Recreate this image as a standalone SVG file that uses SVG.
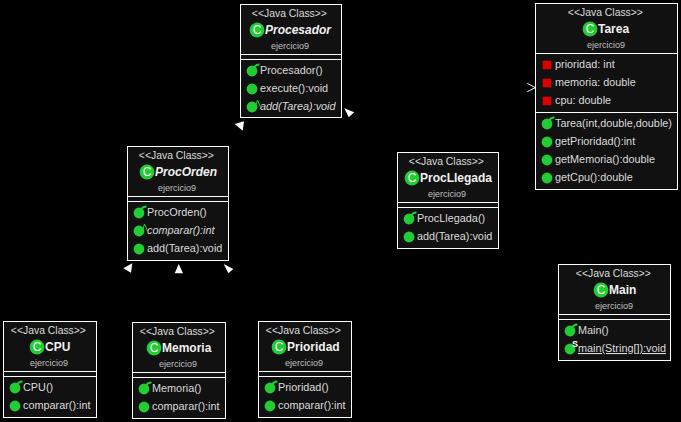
<svg xmlns="http://www.w3.org/2000/svg" width="681" height="422" viewBox="0 0 681 422">
<style>
text{font-family:"Liberation Sans",Arial,sans-serif;fill:#dcdcdc;font-size:10.85px}
.st{text-anchor:middle;font-size:10.4px}
.nmt{font-weight:bold;font-size:12px;fill:#f0f0f0}
.it{font-style:italic}
.pk{text-anchor:middle;font-size:9px;fill:#c0c0c0}
.b{fill:#111;stroke:#fff;stroke-width:1}
.l{stroke:#fff;stroke-width:1}
.g{fill:#22cc33}
.r{fill:#dd0000}
.ar{fill:#fff;stroke:none}
.cn{fill:none;stroke:#000;stroke-width:1}
</style>
<defs>
<g id="cls"><circle r="7.4" class="g"/><text x="0" y="4.2" text-anchor="middle" style="font-size:12px;fill:#fff">C</text></g>
<circle id="m" r="5.4" class="g"/>
<g id="ctor"><circle r="5.4" class="g"/><path d="M2-3Q3.5-6.5 7.5-6.5" fill="none" stroke="#22cc33" stroke-width="2"/></g>
<g id="abs"><circle r="5.4" class="g"/><path d="M4-2L5.5-7L8.5 0" fill="none" stroke="#22cc33" stroke-width="1"/></g>
<rect id="f" x="-4.3" y="-4.3" width="8.6" height="8.6" class="r"/>
</defs>
<rect id="background" x="0" y="0" width="681" height="422" fill="#000"/>
<g id="connectors">
<path class="cn" d="M179 146L239 126M179 322L179 269M128 268L50 321M228 268L305 321M448 152L348 112M342 60L532 88"/>
<path class="ar" d="M244 121.3L234.7 124L242.7 130.7Z"/>
<path class="ar" d="M344.3 108.3L354.3 112.3L348.7 117.3Z"/>
<path class="ar" d="M132.3 263.3L123.3 268.3L131 272.7Z"/>
<path class="ar" d="M178.7 264L174.7 273.3L183 273.3Z"/>
<path class="ar" d="M223.7 264L233.3 269L228.3 273.3Z"/>
<path d="M527.3 83.3L535.3 87.7L527.3 91.7" fill="none" stroke="#fff" stroke-width="1"/>
</g>
<g id="Procesador">
<rect class="b" x="240.5" y="4.5" width="101" height="113"/>
<path class="l" d="M241 54.5H341M241 59.5H341"/>
<text class="st" x="289.4" y="17">&lt;&lt;Java Class&gt;&gt;</text>
<use href="#cls" x="257" y="30"/>
<text x="265" y="34" class="it nmt">Procesador</text>
<text class="pk" x="290" y="49">ejercicio9</text>
<use href="#ctor" x="252" y="71"/><text x="260" y="74">Procesador()</text>
<use href="#m" x="252" y="89"/><text x="260" y="92">execute():void</text>
<use href="#abs" x="252" y="107"/><text x="260" y="110" class="it">add(Tarea):void</text>
</g>
<g id="Tarea">
<rect class="b" x="535.5" y="3.5" width="142" height="186"/>
<path class="l" d="M536 53.5H677M536 112.5H677"/>
<text class="st" x="605.4" y="16">&lt;&lt;Java Class&gt;&gt;</text>
<use href="#cls" x="590" y="29"/>
<text x="598" y="33" class="nmt">Tarea</text>
<text class="pk" x="606" y="48">ejercicio9</text>
<use href="#f" x="547" y="65"/><text x="555" y="68">prioridad: int</text>
<use href="#f" x="547" y="83"/><text x="555" y="86">memoria: double</text>
<use href="#f" x="547" y="101"/><text x="555" y="104">cpu: double</text>
<use href="#ctor" x="547" y="124"/><text x="555" y="127">Tarea(int,double,double)</text>
<use href="#m" x="547" y="142"/><text x="555" y="145">getPrioridad():int</text>
<use href="#m" x="547" y="160"/><text x="555" y="163">getMemoria():double</text>
<use href="#m" x="547" y="178"/><text x="555" y="181">getCpu():double</text>
</g>
<g id="ProcOrden">
<rect class="b" x="127.5" y="146.5" width="101" height="114"/>
<path class="l" d="M128 196.5H228M128 201.5H228"/>
<text class="st" x="176.4" y="159">&lt;&lt;Java Class&gt;&gt;</text>
<use href="#cls" x="147" y="172"/>
<text x="155" y="176" class="it nmt">ProcOrden</text>
<text class="pk" x="177" y="191">ejercicio9</text>
<use href="#ctor" x="139" y="213"/><text x="147" y="216">ProcOrden()</text>
<use href="#abs" x="139" y="231"/><text x="147" y="234" class="it">comparar():int</text>
<use href="#m" x="139" y="249"/><text x="147" y="252">add(Tarea):void</text>
</g>
<g id="ProcLlegada">
<rect class="b" x="397.5" y="152.5" width="101" height="96"/>
<path class="l" d="M398 202.5H498M398 207.5H498"/>
<text class="st" x="446.4" y="165">&lt;&lt;Java Class&gt;&gt;</text>
<use href="#cls" x="412" y="178"/>
<text x="420" y="182" class="nmt">ProcLlegada</text>
<text class="pk" x="447" y="197">ejercicio9</text>
<use href="#ctor" x="409" y="219"/><text x="417" y="222">ProcLlegada()</text>
<use href="#m" x="409" y="237"/><text x="417" y="240">add(Tarea):void</text>
</g>
<g id="CPU">
<rect class="b" x="3.5" y="321.5" width="93" height="96"/>
<path class="l" d="M4 371.5H96M4 376.5H96"/>
<text class="st" x="48.4" y="334">&lt;&lt;Java Class&gt;&gt;</text>
<use href="#cls" x="37" y="347"/>
<text x="45" y="351" class="nmt">CPU</text>
<text class="pk" x="49" y="366">ejercicio9</text>
<use href="#ctor" x="15" y="388"/><text x="23" y="391">CPU()</text>
<use href="#m" x="15" y="406"/><text x="23" y="409">comparar():int</text>
</g>
<g id="Memoria">
<rect class="b" x="132.5" y="322.5" width="93" height="96"/>
<path class="l" d="M133 372.5H225M133 377.5H225"/>
<text class="st" x="177.4" y="335">&lt;&lt;Java Class&gt;&gt;</text>
<use href="#cls" x="154" y="348"/>
<text x="162" y="352" class="nmt">Memoria</text>
<text class="pk" x="178" y="367">ejercicio9</text>
<use href="#ctor" x="144" y="389"/><text x="152" y="392">Memoria()</text>
<use href="#m" x="144" y="407"/><text x="152" y="410">comparar():int</text>
</g>
<g id="Prioridad">
<rect class="b" x="258.5" y="321.5" width="93" height="96"/>
<path class="l" d="M259 371.5H351M259 376.5H351"/>
<text class="st" x="303.4" y="334">&lt;&lt;Java Class&gt;&gt;</text>
<use href="#cls" x="279" y="347"/>
<text x="287" y="351" class="nmt">Prioridad</text>
<text class="pk" x="304" y="366">ejercicio9</text>
<use href="#ctor" x="270" y="388"/><text x="278" y="391">Prioridad()</text>
<use href="#m" x="270" y="406"/><text x="278" y="409">comparar():int</text>
</g>
<g id="Main">
<rect class="b" x="558.5" y="264.5" width="112" height="96"/>
<path class="l" d="M559 314.5H670M559 319.5H670"/>
<text class="st" x="613.4" y="277">&lt;&lt;Java Class&gt;&gt;</text>
<use href="#cls" x="601" y="290"/>
<text x="609" y="294" class="nmt">Main</text>
<text class="pk" x="614" y="309">ejercicio9</text>
<use href="#ctor" x="570" y="331"/><text x="578" y="334">Main()</text>
<use href="#m" x="570" y="349"/><text x="572" y="347" style="font-size:9px;font-weight:bold;fill:#fff">S</text><text x="578" y="352" text-decoration="underline">main(String[]):void</text>
</g>
</svg>
